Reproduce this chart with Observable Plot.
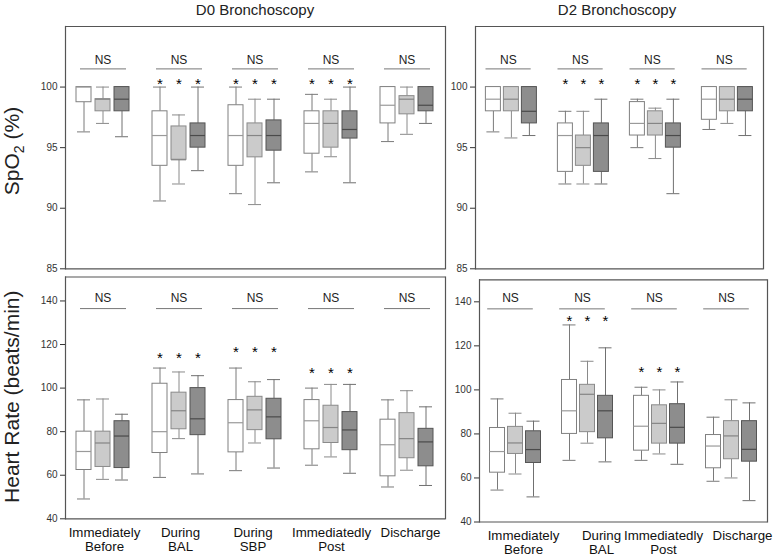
<!DOCTYPE html>
<html><head><meta charset="utf-8">
<script src="https://cdn.jsdelivr.net/npm/d3@7"></script>
<script src="https://cdn.jsdelivr.net/npm/@observablehq/plot@0.6"></script>
<style>
body{margin:0;background:#fff;}
#chart{position:relative;width:773px;height:556px;font-family:"Liberation Sans",Arial,sans-serif;}
#chart svg{position:absolute;left:0;top:0;}
</style></head><body><div id="chart"></div>
<script>
// ---- categories ----
const series = ["A", "B", "C"]; // white, light gray, dark gray boxes
const groupsD0 = ["Immediately\nBefore", "During\nBAL", "During\nSBP", "Immediatedly\nPost", "Discharge"];
const groupsD2 = ["Immediately\nBefore", "During\nBAL", "Immediatedly\nPost", "Discharge"];

// ---- SpO2, D0 (group-major, series-minor) ----
const spo2D0Lo  = [96.3, 97.0, 95.9,  90.6, 92.0, 93.1,  91.2, 90.3, 92.1,  93.0, 94.25, 92.1,  95.5, 96.1, 97.0];
const spo2D0Q1  = [98.75, 98.0, 98.0, 93.5, 94.0, 95.0,  93.5, 94.2, 94.75, 94.5, 95.0, 95.75,  97.0, 97.75, 98.0];
const spo2D0Med = [100, 99.0, 99.0,   96.0, 94.0, 96.0,  96.0, 96.0, 96.0,  97.0, 97.0, 96.5,   98.5, 99.0, 98.5];
const spo2D0Q3  = [100, 99.0, 100,    98.0, 96.75, 97.0, 98.5, 97.0, 97.25, 98.0, 98.0, 98.0,   100, 99.25, 100];
const spo2D0Hi  = [100, 100, 100,     100, 97.7, 100,    100, 99.0, 99.0,   99.4, 99.0, 100,    100, 100, 100];
const spo2D0Star = [null, 100.6, 100.6, 100.6, null];

// ---- SpO2, D2 ----
const spo2D2Lo  = [96.3, 95.8, 96.0,  92.0, 92.0, 92.0,  95.0, 94.1, 91.2,  96.5, 97.0, 96.0];
const spo2D2Q1  = [98.0, 98.0, 97.0,  93.0, 93.5, 93.0,  96.0, 96.0, 95.0,  97.3, 98.0, 98.0];
const spo2D2Med = [99.0, 99.0, 98.0,  96.0, 95.0, 96.0,  97.0, 97.0, 96.0,  99.0, 99.0, 99.0];
const spo2D2Q3  = [100, 100, 100,     97.0, 96.0, 97.0,  98.76, 98.0, 97.0, 100, 100, 100];
const spo2D2Hi  = [100, 100, 100,     98.0, 98.0, 99.0,  99.0, 98.26, 99.0, 100, 100, 100];
const spo2D2Star = [null, 100.6, 100.6, null];

// ---- Heart rate, D0 ----
const hrD0Lo  = [49.1, 58.1, 57.8,  59.0, 76.8, 60.6,  62.1, 74.8, 63.3,  64.6, 68.4, 60.9,  54.6, 62.3, 55.3];
const hrD0Q1  = [62.4, 63.8, 63.3,  70.2, 81.1, 78.4,  70.5, 80.7, 76.5,  71.9, 74.8, 71.5,  59.5, 67.8, 64.1];
const hrD0Med = [70.9, 74.8, 78.0,  80.0, 89.6, 85.9,  84.1, 90.0, 86.8,  85.0, 81.9, 80.8,  74.0, 76.8, 75.3];
const hrD0Q3  = [80.0, 80.0, 84.8,  102.0, 97.9, 100.0, 94.5, 96.0, 95.1, 94.5, 91.9, 89.0,  85.5, 88.5, 81.3];
const hrD0Hi  = [94.6, 95.0, 88.0,  109.2, 107.4, 105.7, 109.2, 102.9, 103.9, 100.0, 101.7, 101.7, 94.6, 98.8, 91.4];
const hrD0Star = [null, 115.4, 118.2, 108.6, null];

// ---- Heart rate, D2 ----
const hrD2Lo  = [54.5, 61.8, 51.4,  68.0, 75.8, 67.3,  68.0, 70.9, 66.2,  58.5, 60.0, 49.7];
const hrD2Q1  = [62.4, 70.9, 66.8,  80.0, 80.8, 78.0,  72.4, 75.6, 75.6,  64.4, 68.5, 67.4];
const hrD2Med = [72.0, 75.9, 72.9,  90.5, 98.0, 90.5,  83.5, 84.8, 83.0,  74.5, 79.1, 73.0];
const hrD2Q3  = [82.7, 83.2, 81.2,  104.5, 102.3, 97.3, 97.3, 93.0, 93.5, 79.5, 85.8, 85.8];
const hrD2Hi  = [95.9, 89.4, 85.8,  129.5, 113.0, 119.1, 101.2, 100.0, 103.6, 87.6, 95.5, 94.1];
const hrD2Star = [null, 132.9, 110.0, null];

// ---- tick values ----
const spo2Ticks = [85, 90, 95, 100];
const hrTicks = [40, 60, 80, 100, 120, 140];

// ---- styles ----
const FONT = '"Liberation Sans", Arial, Helvetica, sans-serif';
const fills = ["#ffffff", "#cbcbcb", "#8d8d8d"];
const boxStrokes = ["#808080", "#8a8a8a", "#555555"];
const medStrokes = ["#9a9a9a", "#858585", "#4a4a4a"];
const whiskStrokes = ["#7a7a7a", "#8a8a8a", "#707070"];
const frameColor = "#555";

function rowsOf(groups, lo, q1, med, q3, hi) {
  return lo.map((_, i) => ({
    gi: Math.floor(i / 3), si: i % 3,
    group: groups[Math.floor(i / 3)], series: series[i % 3],
    lo: lo[i], q1: q1[i], med: med[i], q3: q3[i], hi: hi[i]
  }));
}

function panel(c) {
  const rows = rowsOf(c.groups, c.lo, c.q1, c.med, c.q3, c.hi);
  const groupRows = c.groups.map((g, i) => ({group: g, gi: i}));
  const starRows = rows.filter(d => c.star[d.gi] != null);
  const marks = [
    Plot.ruleY([c.ydom[1]], {stroke: frameColor, strokeWidth: 1.2}),
    Plot.ruleY([c.ydom[0]], {stroke: frameColor, strokeWidth: 1.2}),
    Plot.frame({anchor: "left", facetAnchor: "left", stroke: frameColor, strokeWidth: 1.2}),
    Plot.frame({anchor: "right", facetAnchor: "right", stroke: frameColor, strokeWidth: 1.2}),
    Plot.axisY({ticks: c.ticks, tickSize: 5, tickPadding: 3, fontSize: 10, label: null, color: "#333"}),
    // whiskers
    Plot.ruleX(rows, {fx: "group", x: "series", y1: "lo", y2: "q1", stroke: d => whiskStrokes[d.si]}),
    Plot.ruleX(rows, {fx: "group", x: "series", y1: "q3", y2: "hi", stroke: d => whiskStrokes[d.si]}),
    Plot.tickY(rows, {fx: "group", x: "series", y: "lo", stroke: d => whiskStrokes[d.si], insetLeft: 1, insetRight: 1}),
    Plot.tickY(rows, {fx: "group", x: "series", y: "hi", stroke: d => whiskStrokes[d.si], insetLeft: 1, insetRight: 1}),
    // boxes
    Plot.barY(rows, {fx: "group", x: "series", y1: "q1", y2: "q3", fill: d => fills[d.si], stroke: d => boxStrokes[d.si], strokeWidth: 1}),
    Plot.tickY(rows, {fx: "group", x: "series", y: "med", stroke: d => medStrokes[d.si], strokeWidth: 1.2}),
    // NS annotations
    Plot.ruleY(groupRows, {fx: "group", y: () => c.nsLine, insetLeft: c.nsInset[0], insetRight: c.nsInset[1], stroke: "#777"}),
    Plot.text(groupRows, {fx: "group", x: () => "B", y: () => c.nsText, text: () => "NS", fontSize: 12, fill: "#222", dx: c.nsDx}),
    // significance stars
    Plot.text(starRows, {fx: "group", x: "series", y: d => c.star[d.gi], text: () => "*", fontSize: 15, fill: "#000", dy: 4})
  ];
  if (c.fxDx) {
    c.groups.forEach((g, i) => {
      marks.push(Plot.axisFx({anchor: "bottom", ticks: [g], tickSize: 0, tickPadding: 7.5, fontSize: 13.3, label: null, lineHeight: 1.08, color: "#111", dx: c.fxDx[i]}));
    });
  }
  return Plot.plot({
    width: 773, height: 556,
    marginLeft: c.box[0], marginRight: 773 - c.box[1],
    marginTop: c.box[2], marginBottom: 556 - c.box[3],
    style: {background: "transparent", fontFamily: FONT, overflow: "visible"},
    fx: {domain: c.groups, padding: 0, axis: c.fxDx ? undefined : null},
    x: {domain: series, paddingInner: c.pad[0], paddingOuter: c.pad[1], axis: null},
    y: {domain: c.ydom},
    marks
  });
}

const chart = document.getElementById("chart");

chart.appendChild(panel({
  groups: groupsD0, lo: spo2D0Lo, q1: spo2D0Q1, med: spo2D0Med, q3: spo2D0Q3, hi: spo2D0Hi, star: spo2D0Star,
  ydom: [85, 105], ticks: spo2Ticks, box: [65, 445, 26, 268.3], pad: [0.21, 0.605],
  nsLine: 101.5, nsText: 102.2, nsInset: [15, 15], nsDx: 0
}));
chart.appendChild(panel({
  groups: groupsD2, lo: spo2D2Lo, q1: spo2D2Q1, med: spo2D2Med, q3: spo2D2Q3, hi: spo2D2Hi, star: spo2D2Star,
  ydom: [85, 105], ticks: spo2Ticks, box: [473.6, 764.7, 26, 268.3], pad: [0.18, 0.578],
  nsLine: 101.5, nsText: 102.2, nsInset: [10.5, 16.3], nsDx: -3
}));
chart.appendChild(panel({
  groups: groupsD0, lo: hrD0Lo, q1: hrD0Q1, med: hrD0Med, q3: hrD0Q3, hi: hrD0Hi, star: hrD0Star,
  ydom: [40, 151], ticks: hrTicks, box: [65, 445, 276.5, 518.3], pad: [0.21, 0.605],
  nsLine: 136.5, nsText: 141.2, nsInset: [15, 15], nsDx: 0, fxDx: [1, 1, -2.5, 0, 3]
}));
chart.appendChild(panel({
  groups: groupsD2, lo: hrD2Lo, q1: hrD2Q1, med: hrD2Med, q3: hrD2Q3, hi: hrD2Hi, star: hrD2Star,
  ydom: [40, 150], ticks: hrTicks, box: [478.5, 768, 279.3, 521.5], pad: [0.18, 0.578],
  nsLine: 136.8, nsText: 141.5, nsInset: [8.2, 18.2], nsDx: -5, fxDx: [8, 14, 4, 11]
}));

// titles and axis names
const ns = "http://www.w3.org/2000/svg";
const ov = document.createElementNS(ns, "svg");
ov.setAttribute("width", 773); ov.setAttribute("height", 556);
ov.style.fontFamily = FONT;
ov.innerHTML = `
  <text x="255" y="15.3" text-anchor="middle" font-size="15" fill="#222">D0 Bronchoscopy</text>
  <text x="617" y="15.3" text-anchor="middle" font-size="15" fill="#222">D2 Bronchoscopy</text>
  <text transform="translate(18.5,151) rotate(-90)" text-anchor="middle" font-size="21" fill="#222">SpO<tspan font-size="14" dy="5">2</tspan><tspan dy="-5"> (%)</tspan></text>
  <text transform="translate(18.5,396.7) rotate(-90)" text-anchor="middle" font-size="21" fill="#222">Heart Rate (beats/min)</text>`;
chart.appendChild(ov);
</script>
</body></html>
